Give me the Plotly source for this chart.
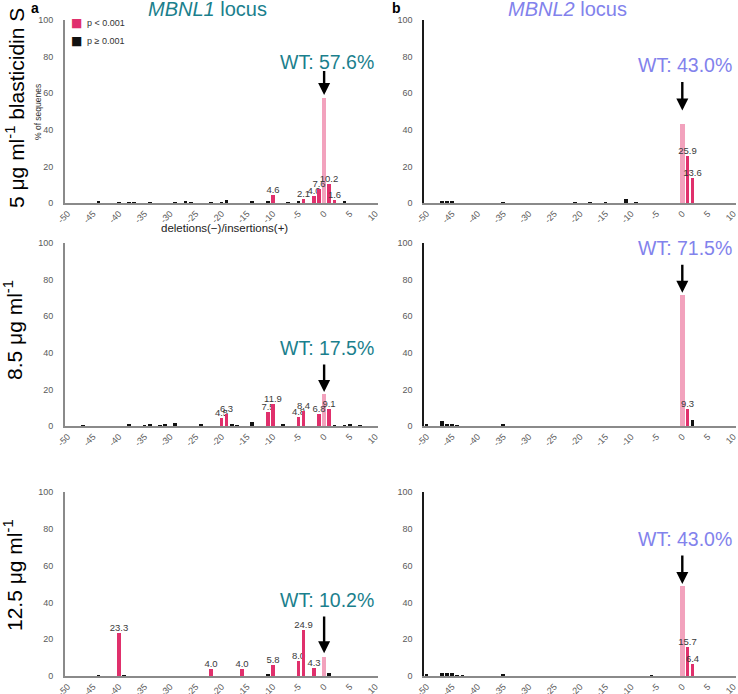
import plotly.graph_objects as go

W, H = 738, 694

# ---------------- data ----------------
x_ticks = list(range(-50, 11, 5))
y_ticks = [0, 20, 40, 60, 80, 100]

# MBNL1 locus, 5 ug/ml blasticidin S
m1_5_sig_pos = [-10, -4, -2, -1, 1, 2]
m1_5_sig_val = [4.6, 2.1, 4.0, 7.6, 10.2, 1.6]
m1_5_ns_pos = [-44, -40, -38, -37, -34, -29, -27, -26, -22, -20, -19, -14, -11, -7, -5, 4]
m1_5_ns_val = [0.6, 0.5, 0.3, 0.3, 0.2, 0.5, 0.9, 0.3, 0.2, 0.4, 1.5, 1.3, 1.3, 0.2, 1.2, 0.6]
m1_5_wt = 57.6

# MBNL1 locus, 8.5 ug/ml
m1_8_sig_pos = [-20, -19, -11, -10, -5, -4, -1, 1]
m1_8_sig_val = [4.5, 6.3, 7.5, 11.9, 4.8, 8.4, 6.8, 9.1]
m1_8_ns_pos = [-47, -38, -35, -34, -32, -31, -29, -24, -18, -17, -14, -8, 2, 4, 5, 7]
m1_8_ns_val = [0.3, 0.7, 0.3, 1.3, 0.3, 0.7, 1.8, 0.6, 0.7, 0.3, 2.2, 0.7, 0.3, 0.3, 0.7, 0.3]
m1_8_wt = 17.5

# MBNL1 locus, 12.5 ug/ml
m1_12_sig_pos = [-40, -22, -16, -10, -5, -4, -2]
m1_12_sig_val = [23.3, 4.0, 4.0, 5.8, 8.0, 24.9, 4.3]
m1_12_ns_pos = [-44, -39, -11, 1]
m1_12_ns_val = [0.3, 0.2, 0.8, 1.5]
m1_12_wt = 10.2

# MBNL2 locus, 5 ug/ml blasticidin S
m2_5_sig_pos = [1, 2]
m2_5_sig_val = [25.9, 13.6]
m2_5_ns_pos = [-47, -46, -45, -35, -21, -18, -15, -11, -9]
m2_5_ns_val = [0.6, 0.6, 0.9, 0.2, 0.5, 0.2, 0.2, 2.0, 0.2]
m2_5_wt = 43.0

# MBNL2 locus, 8.5 ug/ml
m2_8_sig_pos = [1]
m2_8_sig_val = [9.3]
m2_8_ns_pos = [-50, -47, -46, -45, -44, -35, 2]
m2_8_ns_val = [0.6, 2.5, 1.3, 1.3, 0.3, 1.2, 3.4]
m2_8_wt = 71.5

# MBNL2 locus, 12.5 ug/ml
m2_12_sig_pos = [1, 2]
m2_12_sig_val = [15.7, 6.4]
m2_12_ns_pos = [-50, -47, -46, -45, -44, -43, -35, -6]
m2_12_ns_val = [0.8, 1.5, 1.5, 1.5, 0.3, 0.2, 1.0, 0.2]
m2_12_wt = 49.0

wt_labels = ["WT: 57.6%", "WT: 17.5%", "WT: 10.2%", "WT: 43.0%", "WT: 71.5%", "WT: 43.0%"]
row_labels = ["5 μg ml<sup>-1</sup> blasticidin S", "8.5 μg ml<sup>-1</sup>", "12.5 μg ml<sup>-1</sup>"]
legend_names = ["p < 0.001", "p ≥ 0.001"]

# ---------------- style ----------------
FONT = "Arial, Liberation Sans, sans-serif"
SIG = "#e0306c"
WTC = "#f2a2bd"
NS = "#111111"
TEAL = "#1b7f8d"
LAV = "#8282ec"


def py(p):
    return 1 - p / H


left_dom = [65 / W, 378 / W]
right_dom = [424 / W, 736 / W]
row_dom = [[py(203), py(20)], [py(426), py(243)], [py(676), py(492)]]

panels = [
    # data, column, row, text colour, (text y, arrow tail, arrow head)
    (m1_5_sig_pos, m1_5_sig_val, m1_5_ns_pos, m1_5_ns_val, m1_5_wt, 0, 0, TEAL, (77, 73, 59)),
    (m1_8_sig_pos, m1_8_sig_val, m1_8_ns_pos, m1_8_ns_val, m1_8_wt, 0, 1, TEAL, (42.6, 34.4, 18.6)),
    (m1_12_sig_pos, m1_12_sig_val, m1_12_ns_pos, m1_12_ns_val, m1_12_wt, 0, 2, TEAL, (41.3, 33.2, 12.3)),
    (m2_5_sig_pos, m2_5_sig_val, m2_5_ns_pos, m2_5_ns_val, m2_5_wt, 1, 0, LAV, (75.3, 67, 50.5)),
    (m2_8_sig_pos, m2_8_sig_val, m2_8_ns_pos, m2_8_ns_val, m2_8_wt, 1, 1, LAV, (97.3, 89, 72.8)),
    (m2_12_sig_pos, m2_12_sig_val, m2_12_ns_pos, m2_12_ns_val, m2_12_wt, 1, 2, LAV, (74.5, 66.3, 50)),
]

fig = go.Figure()
annotations = []
layout = {}

for i, (sp, sv, npos, nv, wt, col, row, tcol, (ty, tail, head)) in enumerate(panels):
    k = i + 1
    xa = "x" if k == 1 else f"x{k}"
    ya = "y" if k == 1 else f"y{k}"
    fig.add_trace(go.Bar(
        x=[0], y=[wt], xaxis=xa, yaxis=ya, width=0.9,
        marker=dict(color=WTC, line=dict(width=0)),
        showlegend=False, hoverinfo="skip",
    ))
    fig.add_trace(go.Bar(
        x=npos, y=nv, xaxis=xa, yaxis=ya, width=0.72,
        marker=dict(color=NS, line=dict(width=0)),
        name=legend_names[1], showlegend=False,
    ))
    fig.add_trace(go.Bar(
        x=sp, y=sv, xaxis=xa, yaxis=ya, width=0.72,
        marker=dict(color=SIG, line=dict(width=0)),
        text=[f"{v:.1f}" for v in sv], textposition="outside",
        textfont=dict(family=FONT, size=9.5, color="#3a3a3a"),
        constraintext="none", cliponaxis=False,
        name=legend_names[0], showlegend=False,
    ))
    xkey = "xaxis" if k == 1 else f"xaxis{k}"
    ykey = "yaxis" if k == 1 else f"yaxis{k}"
    layout[xkey] = dict(
        domain=left_dom if col == 0 else right_dom, anchor=ya,
        range=[-50.5, 10.5], tickvals=x_ticks, ticktext=[str(t) for t in x_ticks],
        tickangle=-45, tickfont=dict(family=FONT, size=9, color="#5a5a5a"),
        showline=True, linecolor="#8a8a8a", linewidth=2, showgrid=False,
        zeroline=False, ticks="", automargin=False, fixedrange=True,
        ticklabeloverflow="allow",
    )
    layout[ykey] = dict(
        domain=row_dom[row], anchor=xa, range=[0, 100], tickvals=y_ticks,
        tickfont=dict(family=FONT, size=9, color="#5a5a5a"),
        showline=True, linecolor="#8a8a8a" if col == 0 else "#1a1a1a",
        linewidth=2 if col == 0 else 1.5, showgrid=False, zeroline=False,
        ticks="", ticklabelstandoff=8, automargin=False, fixedrange=True,
        ticklabeloverflow="allow",
    )
    annotations.append(dict(
        xref=xa, yref=ya, x=0.5, y=ty, text=wt_labels[i], showarrow=False,
        xanchor="center", yanchor="middle",
        font=dict(family=FONT, size=19.5, color=tcol),
    ))
    annotations.append(dict(
        xref=xa, yref=ya, x=0, y=head, axref=xa, ayref=ya, ax=0, ay=tail,
        text="", showarrow=True, arrowhead=2, arrowsize=1, arrowwidth=2.4,
        arrowcolor="#000000",
    ))

# legend drawn as coloured squares + labels
for j, (clr, yc) in enumerate([(SIG, 23), (NS, 41)]):
    annotations.append(dict(
        xref="paper", yref="paper", x=76 / W, y=py(yc), text="■", showarrow=False,
        xanchor="center", yanchor="middle", font=dict(family="DejaVu Sans", size=12, color=clr),
    ))
    annotations.append(dict(
        xref="paper", yref="paper", x=85 / W, y=py(yc), text=legend_names[j], showarrow=False,
        xanchor="left", yanchor="middle", font=dict(family=FONT, size=9, color="#333"),
    ))

# titles, panel letters, row labels
annotations += [
    dict(xref="paper", yref="paper", x=207 / W, y=py(9), text="<i>MBNL1</i> locus",
         showarrow=False, xanchor="center", yanchor="middle",
         font=dict(family=FONT, size=20, color=TEAL)),
    dict(xref="paper", yref="paper", x=567 / W, y=py(9), text="<i>MBNL2</i> locus",
         showarrow=False, xanchor="center", yanchor="middle",
         font=dict(family=FONT, size=20, color=LAV)),
    dict(xref="paper", yref="paper", x=35 / W, y=py(8), text="<b>a</b>",
         showarrow=False, xanchor="center", yanchor="middle",
         font=dict(family=FONT, size=14, color="#000")),
    dict(xref="paper", yref="paper", x=396 / W, y=py(8), text="<b>b</b>",
         showarrow=False, xanchor="center", yanchor="middle",
         font=dict(family=FONT, size=14, color="#000")),
    dict(xref="paper", yref="paper", x=38 / W, y=py(112), text="% of sequenes",
         textangle=-90, showarrow=False, xanchor="center", yanchor="middle",
         font=dict(family=FONT, size=8.5, color="#333")),
    dict(xref="paper", yref="paper", x=224 / W, y=py(228), text="deletions(−)/insertions(+)",
         showarrow=False, xanchor="center", yanchor="middle",
         font=dict(family=FONT, size=11.5, color="#222")),
]
for j, (yc, xc) in enumerate([(108, 15), (330, 13), (575, 13)]):
    annotations.append(dict(
        xref="paper", yref="paper", x=xc / W, y=py(yc), text=row_labels[j],
        textangle=-90, showarrow=False, xanchor="center", yanchor="middle",
        font=dict(family=FONT, size=21, color="#000"),
    ))

fig.update_layout(
    width=W, height=H, margin=dict(l=0, r=0, t=0, b=0),
    paper_bgcolor="white", plot_bgcolor="white",
    barmode="overlay", bargap=0, showlegend=False,
    annotations=annotations,
    font=dict(family=FONT),
    **layout,
)

fig.write_html(
    "out.html",
    config={"displayModeBar": False},
    post_script="document.body.style.margin='0';document.body.style.overflow='hidden';",
)
